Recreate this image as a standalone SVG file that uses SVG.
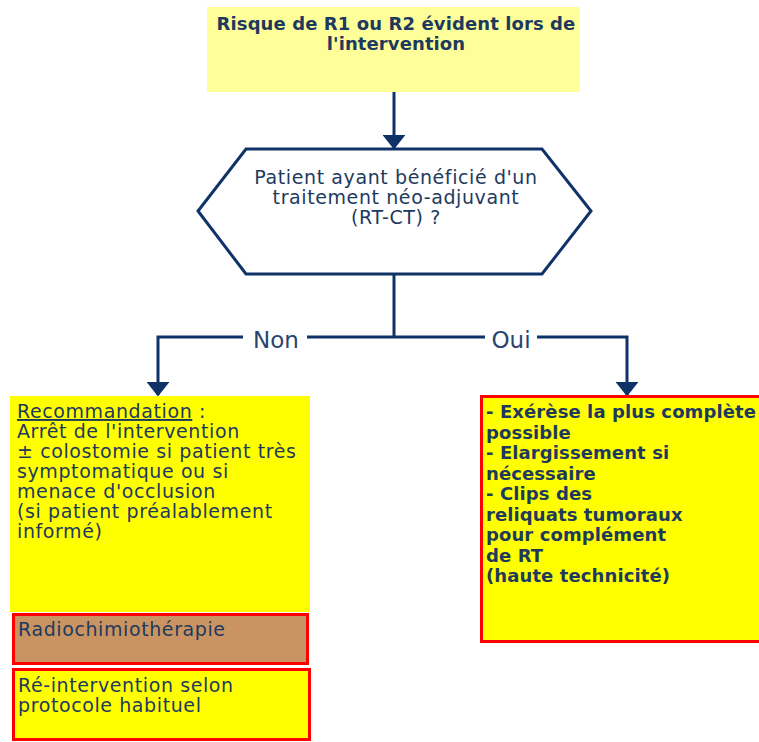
<svg xmlns="http://www.w3.org/2000/svg" width="759" height="742" viewBox="0 0 759 742">
  <style>
    text { font-family: "DejaVu Sans", Verdana, sans-serif; fill: #1d3a5e; }
    .b { font-weight: bold; font-size: 18px; letter-spacing: 0.1px; }
    .r { font-size: 19px; letter-spacing: 0.6px; }
    .lbl { font-size: 23px; fill: #2a4470; }
    .wire { fill: none; stroke: #0f3366; stroke-width: 3; }
    .red { stroke: #ff0000; stroke-width: 3; }
  </style>
  <defs>
    <marker id="arr" viewBox="0 0 10 10" refX="9" refY="5" markerWidth="4.8" markerHeight="7.6" markerUnits="strokeWidth" orient="auto" preserveAspectRatio="none">
      <path d="M0,0 L10,5 L0,10 Z" fill="#0f3366"/>
    </marker>
  </defs>

  <g id="connectors">
    <line class="wire" x1="394" y1="92" x2="394" y2="148" marker-end="url(#arr)"/>
    <polyline class="wire" points="394,275 394,337"/>
    <polyline class="wire" points="394,337 307,337"/>
    <polyline class="wire" points="243,337 158,337 158,395" marker-end="url(#arr)"/>
    <polyline class="wire" points="394,337 485,337"/>
    <polyline class="wire" points="537,337 627,337 627,395" marker-end="url(#arr)"/>
    <text class="lbl" x="276" y="348" text-anchor="middle">Non</text>
    <text class="lbl" x="511" y="348" text-anchor="middle">Oui</text>
  </g>

  <g id="risque">
    <rect x="207" y="7" width="373" height="85" fill="#ffff99"/>
    <text class="b" x="396" y="30" text-anchor="middle">Risque de R1 ou R2 évident lors de</text>
    <text class="b" x="396" y="50" text-anchor="middle">l'intervention</text>
  </g>

  <g id="question">
    <polygon points="246,149 542,149 591,211 542,274 246,274 198,211" fill="#ffffff" stroke="#0f3366" stroke-width="3"/>
    <text class="r" x="396" y="184" text-anchor="middle">Patient ayant bénéficié d'un</text>
    <text class="r" x="396" y="204" text-anchor="middle">traitement néo-adjuvant</text>
    <text class="r" x="396" y="224" text-anchor="middle">(RT-CT) ?</text>
  </g>

  <g id="recommandation">
    <rect x="10" y="396" width="300" height="216" fill="#ffff00"/>
    <text class="r" x="17" y="418"><tspan text-decoration="underline">Recommandation</tspan> :</text>
    <text class="r" x="17" y="438">Arrêt de l'intervention</text>
    <text class="r" x="17" y="458">± colostomie si patient très</text>
    <text class="r" x="17" y="478">symptomatique ou si</text>
    <text class="r" x="17" y="498">menace d'occlusion</text>
    <text class="r" x="17" y="518">(si patient préalablement</text>
    <text class="r" x="17" y="538">informé)</text>
  </g>

  <g id="radiochimio">
    <rect x="13.5" y="614.5" width="294" height="49" fill="#c99462" class="red"/>
    <text class="r" x="18" y="636">Radiochimiothérapie</text>
  </g>

  <g id="reintervention">
    <rect x="13.5" y="669.5" width="296" height="70" fill="#ffff00" class="red"/>
    <text class="r" x="18" y="692">Ré-intervention selon</text>
    <text class="r" x="18" y="712">protocole habituel</text>
  </g>

  <g id="exerese">
    <rect x="481.5" y="396.5" width="280" height="245" fill="#ffff00" class="red"/>
    <text class="b" x="486" y="418">- Exérèse la plus complète</text>
    <text class="b" x="486" y="438.5">possible</text>
    <text class="b" x="486" y="459">- Elargissement si</text>
    <text class="b" x="486" y="479.5">nécessaire</text>
    <text class="b" x="486" y="500">- Clips des</text>
    <text class="b" x="486" y="520.5">reliquats tumoraux</text>
    <text class="b" x="486" y="541">pour complément</text>
    <text class="b" x="486" y="561.5">de RT</text>
    <text class="b" x="486" y="582">(haute technicité)</text>
  </g>
</svg>
